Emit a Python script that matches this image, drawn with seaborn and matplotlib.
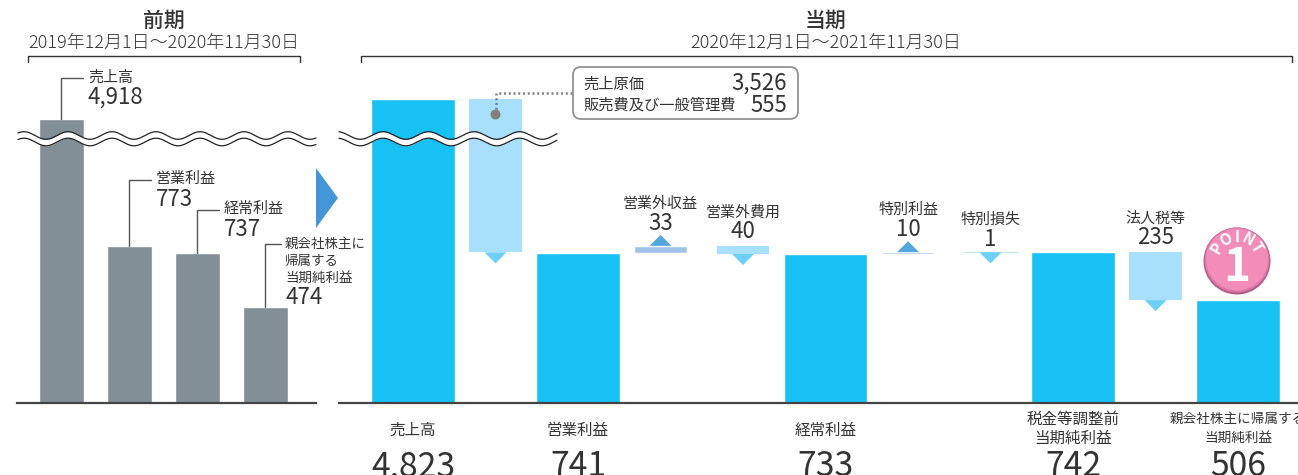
import numpy as np
import pandas as pd
import matplotlib
matplotlib.use("Agg")
import matplotlib.pyplot as plt
from matplotlib.patches import Circle, FancyBboxPatch, Polygon
import seaborn as sns

# Data
prev_names = ["売上高", "営業利益", "経常利益", "親会社株主に帰属する当期純利益"]
prev_values = [4918, 773, 737, 474]

steps = ["売上高", "費用", "営業利益", "営業外収益", "営業外費用", "経常利益",
         "特別利益", "特別損失", "税金等調整前当期純利益", "法人税等", "親会社株主に帰属する当期純利益"]
total_steps = ["売上高", "営業利益", "経常利益", "税金等調整前当期純利益", "親会社株主に帰属する当期純利益"]
total_values = [4823, 741, 733, 742, 506]

cost_sales = 3526
cost_sga = 555

up_steps = ["営業外収益", "特別利益"]
up_amounts = [33, 10]
up_bottoms = [741, 733]

down_steps = ["費用", "営業外費用", "特別損失", "法人税等"]
down_amounts = [cost_sales + cost_sga, 40, 1, 235]
down_tops = [4823, 774, 743, 742]

BLUE = "#17C1F4"
LIGHT = "#A8DFFB"
GREY = "#838F97"
UP_BAR = "#9FC3E8"
UP_TRI = "#55A6DC"
DOWN_TRI = "#6BCFF8"
INK = "#333333"
W, H = 1298, 475

sns.set_theme(style="white")
plt.rcParams["font.family"] = ["Noto Sans CJK JP", "DejaVu Sans"]

fig = plt.figure(figsize=(W / 100, H / 100), dpi=100)


def make_axes(x0, x1, xlim, scale_x, scale_y):
    ax = fig.add_axes([x0 / W, (H - 403) / H, (x1 - x0) / W, 403 / H])
    ax.patch.set_visible(False)
    # axis is broken: small values keep their size, the big bars get squeezed
    forward = lambda v: np.interp(v, scale_x, scale_y)
    inverse = lambda v: np.interp(v, scale_y, scale_x)
    ax.set_yscale("function", functions=(forward, inverse))
    ax.xlim_wanted = xlim
    return ax


def finish_axes(ax):
    ax.set_xlim(*ax.xlim_wanted)
    ax.set_ylim(0, 7000)
    ax.set_xlabel("")
    ax.set_ylabel("")
    ax.set_xticks([])
    ax.set_yticks([])
    ax.minorticks_off()
    for s in ["top", "left", "right"]:
        ax.spines[s].set_visible(False)
    ax.spines["bottom"].set_color("#444444")
    ax.spines["bottom"].set_linewidth(1.6)


# Left panel
ax_l = make_axes(17, 316, (-0.652, 3.743), [0, 1000, 4918, 7000], [0, 203, 284, 403])
sns.barplot(x=prev_names, y=prev_values, order=prev_names, color=GREY, saturation=1,
            width=0.655, errorbar=None, ax=ax_l)
finish_axes(ax_l)

# Right panel
ax_r = make_axes(339, 1298, (-0.897, 10.726), [0, 1000, 4823, 7000], [0, 203, 304, 403])
df = pd.DataFrame({"step": total_steps, "value": total_values})
sns.barplot(data=df, x="step", y="value", order=steps, color=BLUE, saturation=1,
            width=1.01, errorbar=None, ax=ax_r)
up_pos = [steps.index(s) for s in up_steps]
down_pos = [steps.index(s) for s in down_steps]
ax_r.bar(up_pos, up_amounts, bottom=up_bottoms, width=0.64, color=UP_BAR)
down_bottoms = [t - a for t, a in zip(down_tops, down_amounts)]
# only the hairline step (value 1) needs an edge to stay visible
ax_r.bar(down_pos, down_amounts, bottom=down_bottoms, width=0.64, color=LIGHT,
         edgecolor=LIGHT, linewidth=[0, 0, 0.6, 0])
finish_axes(ax_r)

# Overlay in pixel units, for the annotations
ov = fig.add_axes([0, 0, 1, 1], zorder=5)
ov.set_xlim(0, W)
ov.set_ylim(H, 0)
ov.axis("off")


def to_px(ax, x, y):
    return ov.transData.inverted().transform(ax.transData.transform((x, y)))


def label(x, y, s, size=10.8, ha="left", **kw):
    ov.text(x, y, s, fontsize=size, ha=ha, va="center", color=INK, **kw)


def bracket(x0, x1):
    ov.plot([x0, x0, x1, x1], [62, 55.5, 55.5, 62], color=INK, lw=1)


def wave(x0, x1, period, peak):
    xs = np.linspace(x0, x1, 300)
    s = 3.8 * np.cos(2 * np.pi * (xs - peak) / period)
    upper = 135.5 - s
    lower = 142 - s
    ov.fill_between(xs, upper, lower, color="white", lw=0)
    ov.plot(xs, upper, color="#222222", lw=0.9)
    ov.plot(xs, lower, color="#222222", lw=0.9)


def triangle(pos, value, up):
    px, py = to_px(ax_r, pos, value)
    tip = py - 11 if up else py + 11
    ov.add_patch(Polygon([(px - 11, py), (px + 11, py), (px, tip)],
                         color=UP_TRI if up else DOWN_TRI, lw=0))


def leader(i, level, end):
    px, py = to_px(ax_l, i, prev_values[i])
    ov.plot([px, px, end], [py, level, level], color="#555555", lw=1)


# Headers
label(164, 21, "前期", size=15, ha="center", fontweight="medium")
label(164, 43, "2019年12月1日〜2020年11月30日", size=13, ha="center", fontweight="light")
bracket(27.5, 300)
label(826, 21, "当期", size=15, ha="center", fontweight="medium")
label(826, 43, "2020年12月1日〜2021年11月30日", size=13, ha="center", fontweight="light")
bracket(361, 1292)

wave(18, 316, 44, 68)
wave(339, 557, 45.5, 383)

# Left panel labels
leader(0, 78, 83)
label(88, 78, "売上高")
label(88, 97, f"{prev_values[0]:,}", size=16)
leader(1, 180, 151)
label(156, 179, "営業利益")
label(156, 199, f"{prev_values[1]}", size=16)
leader(2, 210, 219)
label(224, 209, "経常利益")
label(224, 229, f"{prev_values[2]}", size=16)
leader(3, 244, 281)
label(285, 244, "親会社株主に", size=9.7)
label(285, 261, "帰属する", size=9.7)
label(285, 278, "当期純利益", size=9.7)
label(285, 297, f"{prev_values[3]}", size=16)

# Arrow between the panels
ov.add_patch(Polygon([(316, 168), (316, 228), (338, 198)], color="#4496D6", lw=0))

# Triangles on the steps
for p, b, a in zip(up_pos, up_bottoms, up_amounts):
    triangle(p, b + a, True)
for p, b in zip(down_pos, down_bottoms):
    triangle(p, b, False)

# Labels over the steps
step_y = {"営業外収益": 204, "営業外費用": 213, "特別利益": 210, "特別損失": 220, "法人税等": 219}
for s, a in zip(up_steps + down_steps[1:], up_amounts + down_amounts[1:]):
    px, _ = to_px(ax_r, steps.index(s), 0)
    label(px, step_y[s], s, ha="center")
    label(px, step_y[s] + 19, f"{a}", size=16, ha="center")

# Callout for the costs
cx, cy = to_px(ax_r, steps.index("費用"), 0)
ov.plot([cx, cx, 573], [114, 93, 93], color="#808080", lw=1.8, ls=(0, (0.8, 1.1)))
ov.add_patch(Circle((cx, 114.5), 5, color="#808080", lw=0))
ov.add_patch(FancyBboxPatch((581, 75), 209, 36, boxstyle="round,pad=8,rounding_size=8",
                            fc="white", ec="#8A8A8A", lw=1.2))
label(583, 84, "売上原価", size=11)
label(787, 83, f"{cost_sales:,}", size=16, ha="right")
label(583, 105, "販売費及び一般管理費", size=11)
label(787, 105, f"{cost_sga}", size=16, ha="right")

# Labels under the totals
for s, v in zip(total_steps, total_values):
    px, _ = to_px(ax_r, steps.index(s), 0)
    label(px, 467, f"{v:,}", size=24.3, ha="center")
    if s == "税金等調整前当期純利益":
        label(px, 419, "税金等調整前", ha="center", size=11.2)
        label(px, 438, "当期純利益", ha="center", size=11.2)
    elif s == "親会社株主に帰属する当期純利益":
        label(px, 419, "親会社株主に帰属する", ha="center", size=9.8)
        label(px, 438, "当期純利益", ha="center", size=9.8)
    else:
        label(px, 430, s, ha="center", size=11.2)

# POINT badge
bx, by = 1237, 261
ov.add_patch(Circle((bx, by), 33.5, color="#B25A86", lw=0))
ov.add_patch(Circle((bx, by - 1), 32.5, color="#D878A6", lw=0))
ov.add_patch(Circle((bx, by - 1.5), 31, color="#F28CB9", lw=0))
for ch, ang in zip("POINT", [-58, -29, 0, 29, 58]):
    a = np.deg2rad(ang)
    ov.text(bx + 23 * np.sin(a), by - 1 - 23 * np.cos(a), ch, color="white", fontsize=11,
            fontweight="bold", ha="center", va="center", rotation=-ang)
ov.text(bx, by + 7, "1", color="white", fontsize=33, fontweight="bold", ha="center", va="center")

fig.savefig("out.png", dpi=100)
